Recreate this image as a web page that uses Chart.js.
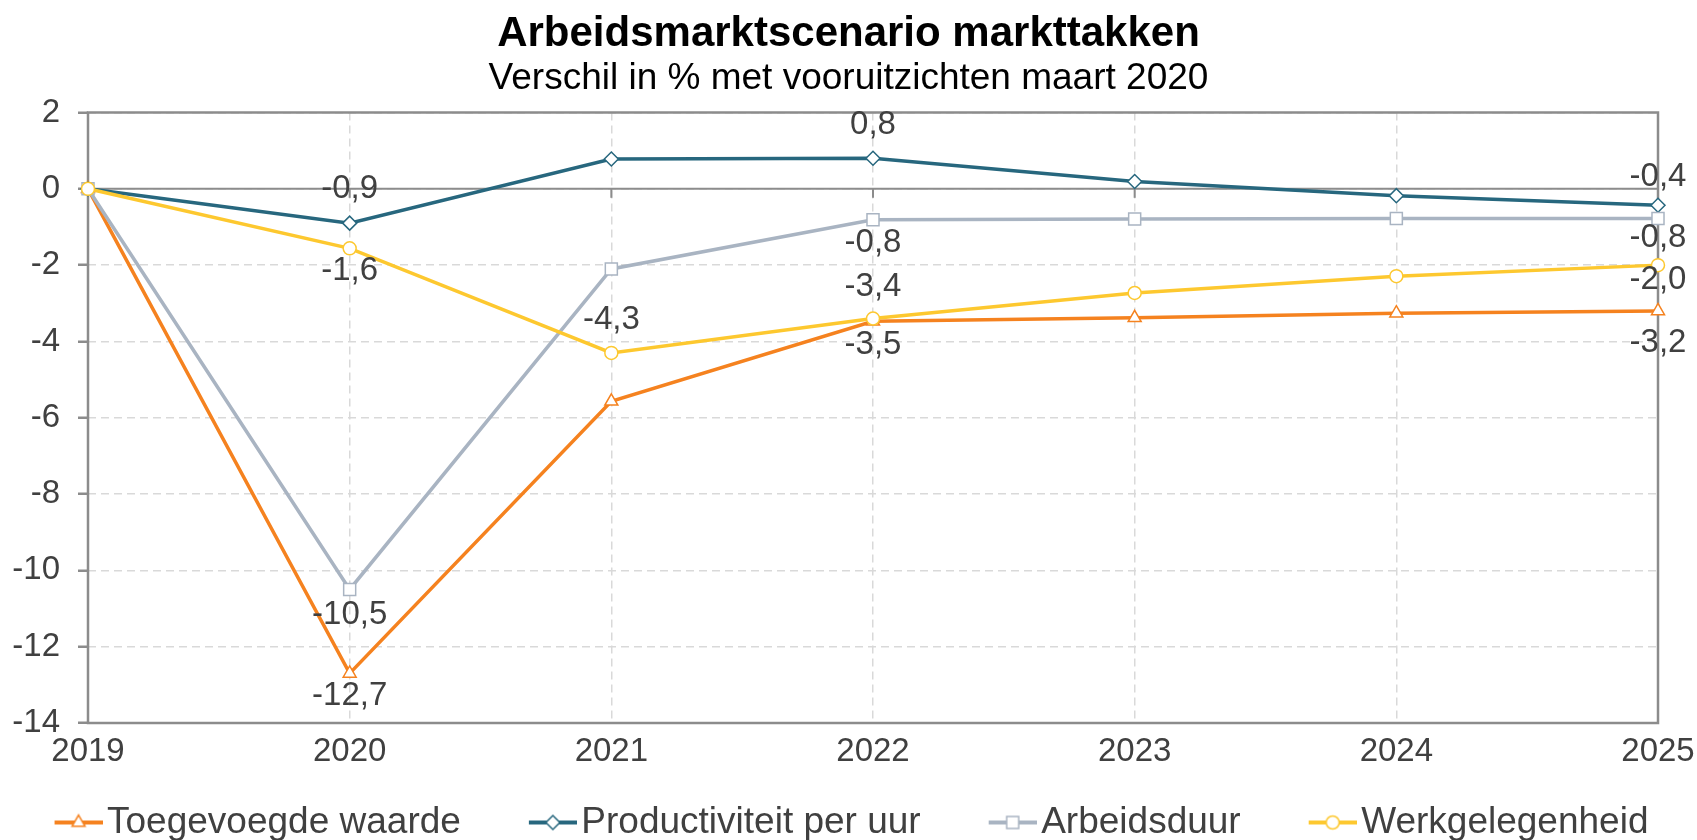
<!DOCTYPE html>
<html>
<head>
<meta charset="utf-8">
<script src="https://cdn.jsdelivr.net/npm/chart.js@4.4.1/dist/chart.umd.min.js"></script>
<style>
html,body{margin:0;padding:0;background:#ffffff;}
#wrap{width:1697px;height:840px;position:relative;}
</style>
</head>
<body>
<div id="wrap"><canvas id="chart"></canvas></div>
<script>
// ---------- data ----------
const categories = ['2019', '2020', '2021', '2022', '2023', '2024', '2025'];
const yTickValues = [2, 0, -2, -4, -6, -8, -10, -12, -14];

const seriesNames = ['Toegevoegde waarde', 'Productiviteit per uur', 'Arbeidsduur', 'Werkgelegenheid'];
const toegevoegdeWaarde   = [0, -12.7, -5.57, -3.47, -3.38, -3.26, -3.2];
const productiviteitPerUur = [0, -0.9, 0.78, 0.8, 0.19, -0.18, -0.43];
const arbeidsduur         = [0, -10.5, -2.1, -0.81, -0.79, -0.78, -0.78];
const werkgelegenheid     = [0, -1.56, -4.3, -3.4, -2.73, -2.29, -2.0];

// which points carry a value label (vertical offset of the label from its point, px; null = no label)
const labelOffsetToegevoegde     = [null, 23, null, 24, null, null, 32];
const labelOffsetProductiviteit  = [null, -34, null, -33, null, null, -28];
const labelOffsetArbeidsduur     = [null, 25, null, 23, null, null, 19];
const labelOffsetWerkgelegenheid = [null, 23, -33, -32, null, null, 15];

// ---------- styles ----------
const FONT = '"Liberation Sans", Arial, sans-serif';
const TEXT = '#404040';
const FRAME = '#8c8c8c';
const GRID = '#d9d9d9';
const colors = ['#f5821f', '#27677e', '#a9b4c2', '#fdc82f'];
const pointStyles = ['triangle', 'rectRot', 'rect', 'circle'];
const pointRadii = [7.5, 7, 8.5, 6.5];

function fmt(v) { return v.toFixed(1).replace('.', ','); }

function legendSample(color, style, radius) {
  const c = document.createElement('canvas');
  c.width = 120; c.height = 26;
  const g = c.getContext('2d');
  g.strokeStyle = color; g.lineWidth = 4;
  g.beginPath(); g.moveTo(72, 13); g.lineTo(120, 13); g.stroke();
  g.fillStyle = '#ffffff'; g.strokeStyle = color; g.lineWidth = 1.5;
  Chart.helpers.drawPoint(g, {pointStyle: style, radius: radius, borderWidth: 1.5, rotation: 0}, 96, 13);
  return c;
}

const seriesData = [toegevoegdeWaarde, productiviteitPerUur, arbeidsduur, werkgelegenheid];
const seriesLabelOffsets = [labelOffsetToegevoegde, labelOffsetProductiviteit, labelOffsetArbeidsduur, labelOffsetWerkgelegenheid];

const datasets = seriesNames.map((name, i) => ({
  label: name,
  data: seriesData[i],
  labelOffsets: seriesLabelOffsets[i],
  borderColor: colors[i],
  backgroundColor: '#ffffff',
  borderWidth: 3.5,
  tension: 0,
  pointStyle: pointStyles[i],
  pointRadius: pointRadii[i],
  pointHoverRadius: pointRadii[i],
  pointBorderWidth: 1.5,
  pointBorderColor: colors[i],
  pointBackgroundColor: '#ffffff',
  clip: false,
  order: seriesNames.length - 1 - i
}));

// ---------- plugins ----------
const framePlugin = {
  id: 'frame',
  beforeDatasetsDraw(chart) {
    const {ctx, chartArea: a, scales: {x, y}} = chart;
    const y0 = y.getPixelForValue(0);
    ctx.save();
    ctx.strokeStyle = FRAME;
    ctx.lineWidth = 2;
    ctx.beginPath(); ctx.moveTo(a.left, y0); ctx.lineTo(a.right, y0); ctx.stroke();
    categories.forEach((c, i) => {
      const px = x.getPixelForValue(i);
      ctx.beginPath(); ctx.moveTo(px, y0); ctx.lineTo(px, y0 + 9); ctx.stroke();
    });
    ctx.lineWidth = 2.5;
    ctx.strokeRect(a.left, a.top, a.right - a.left, a.bottom - a.top);
    ctx.restore();
  }
};

const dataLabelPlugin = {
  id: 'dataLabels',
  afterDatasetsDraw(chart) {
    const ctx = chart.ctx;
    ctx.save();
    ctx.font = '33px ' + FONT;
    ctx.fillStyle = TEXT;
    ctx.textAlign = 'center';
    ctx.textBaseline = 'middle';
    chart.data.datasets.forEach((ds, i) => {
      const meta = chart.getDatasetMeta(i);
      meta.data.forEach((pt, j) => {
        const off = ds.labelOffsets[j];
        if (off === null || off === undefined) return;
        ctx.fillText(fmt(ds.data[j]), pt.x, pt.y + off);
      });
    });
    ctx.restore();
  }
};

const legendShiftPlugin = {
  id: 'legendShift',
  afterLayout(chart) {
    const l = chart.legend;
    if (l) { l.left -= 26; l.right -= 26; }
  }
};

// ---------- chart ----------
new Chart(document.getElementById('chart'), {
  type: 'line',
  data: { labels: categories, datasets: datasets },
  plugins: [framePlugin, dataLabelPlugin, legendShiftPlugin],
  options: {
    responsive: true,
    maintainAspectRatio: false,
    devicePixelRatio: 1,
    animation: false,
    layout: { padding: { left: 0, right: 0, top: 0, bottom: -11 } },
    plugins: {
      title: {
        display: true,
        text: 'Arbeidsmarktscenario markttakken',
        color: '#000000',
        font: { family: FONT, size: 42, weight: 'bold', lineHeight: 1.05 },
        padding: { top: 12, bottom: 0 }
      },
      subtitle: {
        display: true,
        text: 'Verschil in % met vooruitzichten maart 2020',
        color: '#000000',
        font: { family: FONT, size: 37, weight: 'normal', lineHeight: 1.2 },
        padding: { top: 0, bottom: 12 }
      },
      legend: {
        display: true,
        position: 'bottom',
        align: 'center',
        labels: {
          color: TEXT,
          font: { family: FONT, size: 37 },
          usePointStyle: true,
          pointStyleWidth: 92,
          padding: 10,
          generateLabels(chart) {
            return seriesNames.map((name, i) => ({
              text: name,
              datasetIndex: i,
              fillStyle: '#ffffff',
              strokeStyle: colors[i],
              lineWidth: 0,
              fontColor: TEXT,
              hidden: false,
              pointStyle: legendSample(colors[i], pointStyles[i], pointRadii[i])
            }));
          }
        }
      },
      tooltip: { enabled: false }
    },
    scales: {
      x: {
        type: 'category',
        offset: false,
        grid: { color: GRID, lineWidth: 1.5, drawTicks: false },
        border: { display: false, dash: [8, 5] },
        ticks: { color: TEXT, font: { family: FONT, size: 33 }, padding: 9, maxRotation: 0, autoSkip: false },
        afterFit(s) { s.height = 71; s.paddingLeft = 0; s.paddingRight = 0; }
      },
      y: {
        type: 'linear',
        position: 'left',
        min: -14,
        max: 2,
        grid: { color: GRID, lineWidth: 1.5, tickLength: 10, tickColor: FRAME, tickWidth: 2.5 },
        border: { display: false, dash: [8, 5] },
        ticks: { color: TEXT, font: { family: FONT, size: 33 }, padding: 18, stepSize: 2 },
        afterBuildTicks(s) { s.ticks = yTickValues.map(v => ({ value: v })); },
        afterFit(s) { s.width = 88; }
      },
      yR: {
        type: 'linear',
        position: 'right',
        display: true,
        grid: { display: false, drawTicks: false },
        border: { display: false },
        ticks: { display: false },
        afterFit(s) { s.width = 39; }
      }
    }
  }
});
</script>
</body>
</html>
